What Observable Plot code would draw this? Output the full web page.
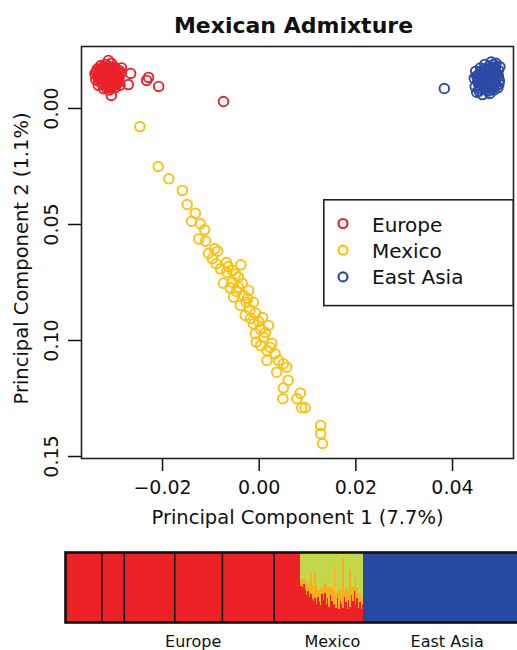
<!DOCTYPE html>
<html><head><meta charset="utf-8">
<script src="https://cdn.jsdelivr.net/npm/d3@7"></script>
<script src="https://cdn.jsdelivr.net/npm/@observablehq/plot@0.6"></script>
<style>
html,body{margin:0;padding:0;background:#fff;overflow:hidden;}
#wrap{position:relative;width:517px;height:650px;overflow:hidden;font-family:"DejaVu Sans",sans-serif;}
#wrap svg{display:block;}
#legend{position:absolute;left:323px;top:199px;}
</style></head><body><div id="wrap"></div>
<script>
// ---------- data ----------
const title = "Mexican Admixture";
const xTitle = "Principal Component 1 (7.7%)";
const yTitle = "Principal Component 2 (1.1%)";
const xTicks = [-0.02, 0.00, 0.02, 0.04];
const yTicks = [0.00, 0.05, 0.10, 0.15];
const groups = ["Europe", "Mexico", "East Asia"];
const groupColors = ["#E9222A", "#FDC010", "#2B4BA6"];

const europePC1 = [-0.0340,-0.0338,-0.0335,-0.0333,-0.0330,-0.0328,-0.0326,-0.0324,-0.0322,-0.0320,
  -0.0318,-0.0316,-0.0315,-0.0313,-0.0311,-0.0310,-0.0308,-0.0306,-0.0305,-0.0303,
  -0.0301,-0.0299,-0.0298,-0.0296,-0.0294,-0.0292,-0.0290,-0.0288,-0.0287,-0.0285,
  -0.0320,-0.0330,-0.0310,-0.0300,-0.0325,-0.0315,-0.0305,-0.0335,-0.0295,-0.0312,
  -0.0337,-0.0332,-0.0328,-0.0326,-0.0323,-0.0321,-0.0319,-0.0317,-0.0314,-0.0312,
  -0.0309,-0.0307,-0.0304,-0.0302,-0.0300,-0.0297,-0.0295,-0.0293,-0.0291,-0.0289,
  -0.0318,-0.0308,-0.0298,-0.0328,-0.0313,-0.0303,-0.0323,-0.0316,-0.0306,-0.0296,
  -0.0312,-0.0266,-0.0271,-0.0306,-0.0233,-0.0229,-0.0208,-0.0074];
const europePC2 = [-0.0150,-0.0125,-0.0170,-0.0100,-0.0140,-0.0185,-0.0115,-0.0160,-0.0085,-0.0135,
  -0.0190,-0.0105,-0.0150,-0.0172,-0.0120,-0.0080,-0.0142,-0.0195,-0.0100,-0.0160,
  -0.0128,-0.0178,-0.0090,-0.0145,-0.0115,-0.0165,-0.0132,-0.0100,-0.0150,-0.0175,
  -0.0155,-0.0160,-0.0165,-0.0140,-0.0130,-0.0125,-0.0120,-0.0140,-0.0130,-0.0095,
  -0.0158,-0.0118,-0.0148,-0.0172,-0.0105,-0.0142,-0.0168,-0.0118,-0.0138,-0.0182,
  -0.0110,-0.0152,-0.0175,-0.0108,-0.0158,-0.0122,-0.0152,-0.0140,-0.0112,-0.0162,
  -0.0148,-0.0130,-0.0168,-0.0128,-0.0160,-0.0145,-0.0180,-0.0090,-0.0088,-0.0105,
  -0.0207,-0.0151,-0.0103,-0.0056,-0.0121,-0.0134,-0.0095,-0.0030];

const mexicoPC1 = [-0.0247,-0.0209,-0.0187,-0.0159,-0.0149,-0.0132,-0.0140,-0.0122,-0.0113,-0.0125,
  -0.0111,-0.0092,-0.0105,-0.0086,-0.0089,-0.0038,-0.0080,-0.0067,-0.0049,-0.0043,
  -0.0074,-0.0056,-0.0060,-0.0043,-0.0053,-0.0032,-0.0027,-0.0012,-0.0039,-0.0019,
  -0.0029,-0.0008,-0.0012,0.0019,0.0002,-0.0008,0.0009,-0.0006,0.0026,0.0016,
  0.0033,0.0016,0.0040,0.0050,0.0057,0.0036,0.0060,0.0050,0.0049,0.0085,
  0.0078,0.0088,0.0095,0.0127,0.0127,0.0131,
  -0.0064,-0.0055,-0.0047,-0.0024,-0.0035,-0.0018,-0.0001,0.0007,0.0003,0.0023,
  -0.0022,-0.0068,-0.0097,0.0013];
const mexicoPC2 = [0.0078,0.0250,0.0303,0.0353,0.0414,0.0451,0.0486,0.0497,0.0523,0.0562,
  0.0572,0.0605,0.0624,0.0615,0.0669,0.0674,0.0691,0.0706,0.0713,0.0727,
  0.0753,0.0749,0.0773,0.0770,0.0813,0.0806,0.0835,0.0835,0.0849,0.0868,
  0.0892,0.0882,0.0928,0.0935,0.0950,0.0971,0.0986,0.1007,0.1012,0.1043,
  0.1057,0.1086,0.1086,0.1100,0.1115,0.1137,0.1172,0.1204,0.1251,0.1227,
  0.1251,0.1290,0.1290,0.1366,0.1401,0.1444,
  0.0681,0.0698,0.0789,0.0819,0.0754,0.0905,0.0918,0.0901,0.1022,0.1030,
  0.0784,0.0664,0.0647,0.0966];

const asiaPC1 = [0.0445,0.0447,0.0448,0.0450,0.0452,0.0454,0.0456,0.0458,0.0460,0.0462,
  0.0463,0.0465,0.0467,0.0468,0.0470,0.0472,0.0474,0.0476,0.0477,0.0479,
  0.0480,0.0482,0.0484,0.0486,0.0487,0.0489,0.0490,0.0492,0.0494,0.0495,
  0.0497,0.0498,0.0460,0.0470,0.0480,0.0475,0.0465,0.0485,0.0455,0.0490,
  0.0450,0.0453,0.0457,0.0459,0.0462,0.0464,0.0466,0.0469,0.0471,0.0473,
  0.0475,0.0478,0.0479,0.0481,0.0483,0.0485,0.0487,0.0488,0.0491,0.0493,
  0.0495,0.0496,0.0468,0.0472,0.0477,0.0483,0.0461,0.0489,0.0455,0.0474,0.0383];
const asiaPC2 = [-0.0130,-0.0095,-0.0160,-0.0070,-0.0115,-0.0145,-0.0085,-0.0175,-0.0125,-0.0060,
  -0.0100,-0.0155,-0.0190,-0.0135,-0.0080,-0.0110,-0.0165,-0.0145,-0.0065,-0.0095,
  -0.0200,-0.0125,-0.0175,-0.0080,-0.0150,-0.0110,-0.0195,-0.0135,-0.0090,-0.0165,
  -0.0120,-0.0180,-0.0150,-0.0160,-0.0140,-0.0120,-0.0110,-0.0100,-0.0100,-0.0150,
  -0.0140,-0.0125,-0.0110,-0.0160,-0.0138,-0.0090,-0.0170,-0.0120,-0.0145,-0.0095,
  -0.0180,-0.0110,-0.0160,-0.0085,-0.0130,-0.0190,-0.0120,-0.0165,-0.0100,-0.0150,
  -0.0140,-0.0105,-0.0100,-0.0130,-0.0135,-0.0150,-0.0115,-0.0180,-0.0075,-0.0075,-0.0086];

// admixture (STRUCTURE-style) bar
const components = ["European", "K4", "Native American", "East Asian"];
const componentColors = ["#EC2227", "#F6AE1C", "#C4D74B", "#2649A1"];
const europeGroups = [26, 16, 36, 34, 37, 19];      // individuals per European sample
const mexicoEuropean = [0.52,0.50,0.55,0.46,0.38,0.44,0.36,0.40,0.33,0.30,0.34,0.26,0.36,0.28,0.24,
  0.40,0.32,0.42,0.26,0.34,0.22,0.38,0.30,0.24,0.26,0.20,0.34,0.18,0.30,0.26,
  0.20,0.36,0.28,0.18,0.32,0.22,0.38,0.30,0.44,0.24,0.34,0.20,0.28,0.18,0.24];
const mexicoK4 = [0.10,0.12,0.06,0.15,0.18,0.10,0.22,0.30,0.20,0.15,0.37,0.25,0.10,0.18,0.25,
  0.08,0.20,0.12,0.30,0.14,0.28,0.10,0.18,0.20,0.54,0.22,0.10,0.28,0.16,0.12,
  0.71,0.10,0.20,0.30,0.12,0.53,0.12,0.20,0.08,0.42,0.14,0.22,0.14,0.18,0.10];
const asiaCount = 119;
const regionLabels = ["Europe", "Mexico", "East Asia"];

// ---------- scatter ----------
const fmt = d3.format(".2f");
const points = [];
[[europePC1, europePC2], [mexicoPC1, mexicoPC2], [asiaPC1, asiaPC2]].forEach(([a, b], g) => {
  a.forEach((v, i) => points.push({pc1: v, pc2: b[i], group: groups[g]}));
});

const scatter = Plot.plot({
  width: 517, height: 540,
  marginTop: 46, marginLeft: 81, marginRight: 4, marginBottom: 82,
  style: {fontFamily: "DejaVu Sans, sans-serif", fontSize: "19px", color: "#111", background: "white", overflow: "visible"},
  x: {domain: [-0.03677, 0.05262]},
  y: {domain: [-0.02672, 0.15086], reverse: true},
  color: {domain: groups, range: groupColors},
  marks: [
    Plot.axisX({ticks: xTicks, tickSize: 13, tickPadding: 9, tickFormat: fmt, label: null, strokeWidth: 1.5, fontSize: 19}),
    Plot.axisY({ticks: yTicks, tickSize: 13, tickPadding: 11, tickRotate: -90, tickFormat: fmt, label: null, strokeWidth: 1.5, fontSize: 19}),
    Plot.dot(points, {x: "pc1", y: "pc2", stroke: "group", r: 4.8, strokeWidth: 1.9}),
    Plot.frame({stroke: "#222", strokeWidth: 1.6}),
    Plot.text([title], {text: d => d, frameAnchor: "top", lineAnchor: "bottom", dy: -14, dx: -4, fontSize: 22, fontWeight: "bold"}),
    Plot.text([xTitle], {text: d => d, frameAnchor: "bottom", lineAnchor: "bottom", dy: 65, fontSize: 19.5}),
    Plot.text([yTitle], {text: d => d, frameAnchor: "left", textAnchor: "middle", lineAnchor: "bottom", rotate: -90, dx: -54, dy: 6, fontSize: 19.5})
  ]
});

// ---------- admixture bar ----------
const rows = [];
let pos = 0;
const seps = [];
europeGroups.forEach((n, i) => {
  rows.push({x1: pos, x2: pos + n, comp: components[0], q: 1});
  pos += n;
  if (i < europeGroups.length - 1) seps.push(pos);
});
const europeEnd = pos;
mexicoEuropean.forEach((r, i) => {
  const o = mexicoK4[i];
  rows.push({x1: pos, x2: pos + 1, comp: components[0], q: r});
  rows.push({x1: pos, x2: pos + 1, comp: components[1], q: o});
  rows.push({x1: pos, x2: pos + 1, comp: components[2], q: 1 - r - o});
  pos += 1;
});
const mexicoEnd = pos;
rows.push({x1: pos, x2: pos + asiaCount, comp: components[3], q: 1});
pos += asiaCount;
const total = pos;
const mids = [europeEnd / 2, (europeEnd + mexicoEnd) / 2, (mexicoEnd + total) / 2];
const labelRows = regionLabels.map((t, i) => ({t, x: mids[i]}));

const bar = Plot.plot({
  width: 535, height: 110,
  marginTop: 12, marginBottom: 28, marginLeft: 65, marginRight: 5,
  style: {fontFamily: "DejaVu Sans, sans-serif", fontSize: "16px", color: "#111", background: "white", maxWidth: "none", overflow: "visible"},
  x: {domain: [0, total], axis: null},
  y: {domain: [0, 1], axis: null},
  color: {domain: components, range: componentColors},
  marks: [
    Plot.rectY(rows, Plot.stackY({x1: "x1", x2: "x2", y: "q", fill: "comp", shapeRendering: "crispEdges"})),
    Plot.ruleX(seps, {stroke: "#111", strokeWidth: 1.5}),
    Plot.frame({stroke: "#111", strokeWidth: 2.6}),
    Plot.text(labelRows.slice(0, 1), {x: "x", text: "t", frameAnchor: "bottom", lineAnchor: "bottom", dy: 24, dx: 10, fontSize: 16}),
    Plot.text(labelRows.slice(1), {x: "x", text: "t", frameAnchor: "bottom", lineAnchor: "bottom", dy: 24, fontSize: 16})
  ]
});

const wrap = document.getElementById("wrap");
wrap.appendChild(scatter);
wrap.appendChild(bar);

// ---------- legend ----------
const ns = "http://www.w3.org/2000/svg";
const lg = document.createElementNS(ns, "svg");
lg.setAttribute("id", "legend");
lg.setAttribute("width", 191); lg.setAttribute("height", 108);
const box = document.createElementNS(ns, "rect");
box.setAttribute("x", 0.8); box.setAttribute("y", 0.8);
box.setAttribute("width", 189.4); box.setAttribute("height", 105.8);
box.setAttribute("fill", "white"); box.setAttribute("stroke", "#222"); box.setAttribute("stroke-width", 1.6);
lg.appendChild(box);
groups.forEach((g, i) => {
  const c = document.createElementNS(ns, "circle");
  c.setAttribute("cx", 20); c.setAttribute("cy", 24.5 + i * 26.7); c.setAttribute("r", 4.5);
  c.setAttribute("fill", "none"); c.setAttribute("stroke", groupColors[i]); c.setAttribute("stroke-width", 2.2);
  lg.appendChild(c);
  const t = document.createElementNS(ns, "text");
  t.setAttribute("x", 49); t.setAttribute("y", 33 + i * 26);
  t.setAttribute("font-size", 20); t.setAttribute("fill", "#111");
  t.setAttribute("font-family", "DejaVu Sans, sans-serif");
  t.textContent = g;
  lg.appendChild(t);
});
wrap.appendChild(lg);
</script>
</body></html>
